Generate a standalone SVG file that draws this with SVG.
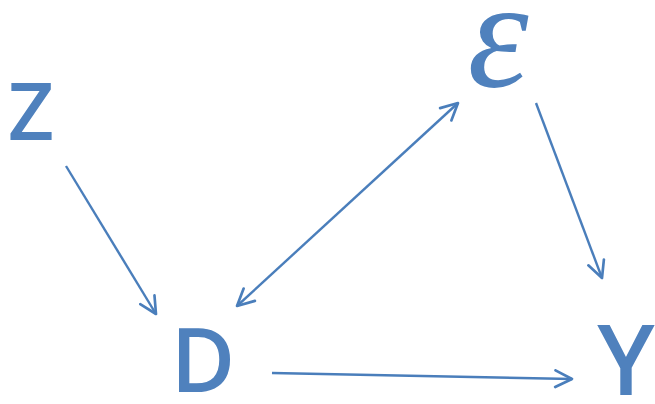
<svg xmlns="http://www.w3.org/2000/svg" width="655" height="404" viewBox="0 0 655 404">
<style>
.lbl{font-family:"Open Sans","Noto Sans","DejaVu Sans",sans-serif;font-weight:600;fill:#4f81bd;text-anchor:middle}
.greek{font-family:"Liberation Serif","DejaVu Serif",serif;font-style:italic;fill:#4f81bd;text-anchor:middle}
.edge{stroke:#4a7ebb;stroke-width:2.4;fill:none}
</style>
<defs>
<marker id="ah" viewBox="0 0 12 12" refX="11" refY="6" markerWidth="20" markerHeight="20" markerUnits="userSpaceOnUse" orient="auto-start-reverse">
<path d="M1,1 L11,6 L1,11" fill="none" stroke="#4a7ebb" stroke-width="1.6" stroke-linecap="round" stroke-linejoin="round"/>
</marker>
</defs>
<rect width="655" height="404" fill="#ffffff"/>
<g id="connectors">
<line class="edge" x1="66" y1="166" x2="156" y2="314" marker-end="url(#ah)"/>
<line class="edge" x1="237" y1="306" x2="458" y2="103" marker-start="url(#ah)" marker-end="url(#ah)"/>
<line class="edge" x1="536" y1="103" x2="602" y2="278" marker-end="url(#ah)"/>
<line class="edge" x1="272" y1="373" x2="572" y2="379" marker-end="url(#ah)"/>
</g>
<g id="node-Z"><text class="lbl" x="31" y="140" font-size="80">Z</text></g>
<g id="node-epsilon"><text class="greek" x="498" y="86" font-size="155">ε</text></g>
<g id="node-D"><text class="lbl" x="203" y="392" font-size="88">D</text></g>
<g id="node-Y"><text class="lbl" x="626" y="395" font-size="97">Y</text></g>
</svg>
